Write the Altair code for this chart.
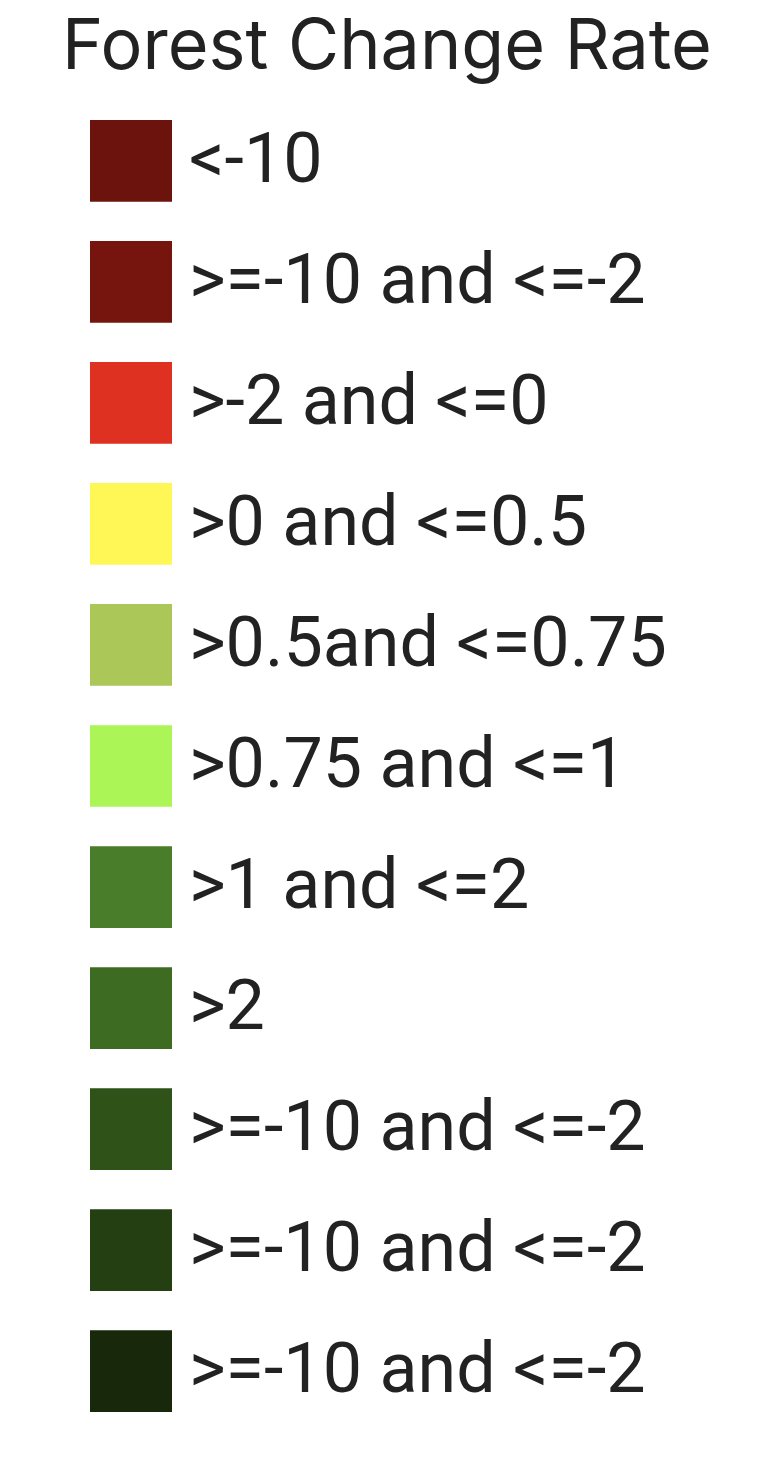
import altair as alt
import pandas as pd

title_text = "Forest Change Rate"
labels = [
    "<-10",
    ">=-10 and <=-2",
    ">-2 and <=0",
    ">0 and <=0.5",
    ">0.5and <=0.75",
    ">0.75 and <=1",
    ">1 and <=2",
    ">2",
    ">=-10 and <=-2",
    ">=-10 and <=-2",
    ">=-10 and <=-2",
]
colors = [
    "#6B130C", "#75150E", "#DE3121", "#FFF755", "#ABC758", "#ABF557",
    "#4A7D29", "#3E6B22", "#2F5219", "#243F12", "#17290A",
]

df = pd.DataFrame({"idx": list(range(len(labels))), "label": labels, "color": colors})

yscale = alt.Scale(domain=list(range(len(labels))), range=[112, 1404],
                   paddingInner=0.325, paddingOuter=0)
yenc = alt.Y("idx:O", scale=yscale, axis=None)

swatches = alt.Chart(df).mark_rect().encode(
    y=yenc,
    x=alt.value(82), x2=alt.value(164),
    color=alt.Color("color:N", scale=None, legend=None),
)

texts = alt.Chart(df).mark_text(
    align="left", baseline="middle", font="Roboto", fontSize=70, color="#222222"
).encode(
    y=yenc,
    x=alt.value(181),
    text="label:N",
)

title = alt.Chart(pd.DataFrame({"t": [title_text]})).mark_text(
    align="left", baseline="alphabetic", font="Inter", fontSize=70, color="#222222"
).encode(
    x=alt.value(54), y=alt.value(61), text="t:N"
)

chart = alt.layer(swatches, texts, title).properties(
    width=748, height=1452, padding=0
).configure_view(stroke=None)

chart.save("out.html", embed_options={"renderer": "svg", "actions": False})
